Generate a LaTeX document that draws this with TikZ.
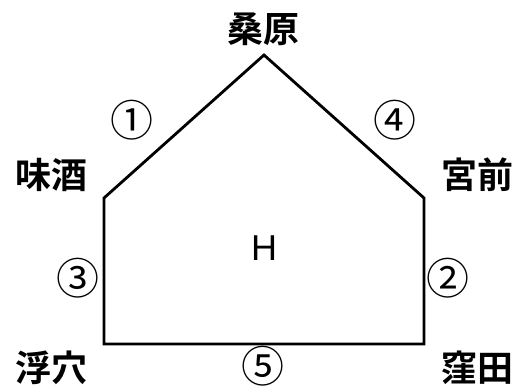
\documentclass[tikz,border=0pt]{standalone}
\usepackage{fontspec}
\newfontfamily\cjkb[BoldFont={Noto Sans CJK JP Bold}]{Noto Sans CJK JP}
\newfontfamily\latn{Liberation Sans}
\begin{document}
\begin{tikzpicture}[x=1pt,y=-1pt,
  place/.style={font=\cjkb\bfseries\fontsize{36}{36}\selectfont, inner sep=0pt, anchor=center},
  edgelab/.style={font=\cjkb\fontsize{43}{43}\selectfont, inner sep=0pt, anchor=center},
  wall/.style={line width=2.8pt, line join=miter}]
\useasboundingbox (0,0) rectangle (522,387);
\coordinate (T) at (264,55);
\coordinate (L) at (104,198);
\coordinate (R) at (424,198);
\coordinate (BL) at (104,344);
\coordinate (BR) at (424,344);
\draw[wall] (T) -- (R) -- (BR) -- (BL) -- (L) -- cycle;
\node[place] (kuwabara) at (263,29) {桑原};
\node[place] (misake) at (52,175) {味酒};
\node[place] (miyamae) at (477,175) {宮前};
\node[place] (ukena) at (51,368) {浮穴};
\node[place] (kubota) at (477,368) {窪田};
\node[edgelab] (e1) at (132,120) {①};
\node[edgelab] (e4) at (395,120) {④};
\node[edgelab] (e3) at (78,278) {③};
\node[edgelab] (e2) at (448,278) {②};
\node[edgelab] (e5) at (263,366) {⑤};
\node[font=\latn\fontsize{36}{36}\selectfont, inner sep=0pt] (h) at (264,248) {H};
\end{tikzpicture}
\end{document}
